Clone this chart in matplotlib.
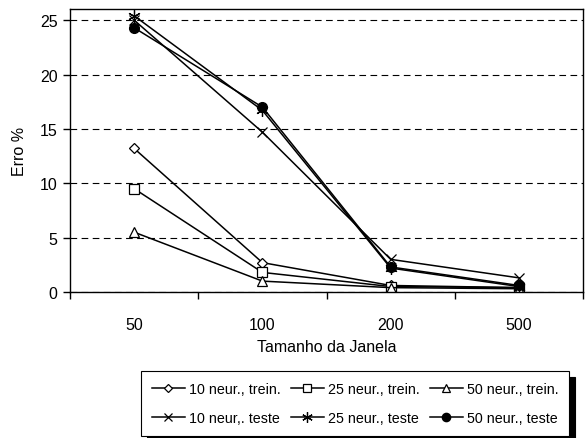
import numpy as np
import matplotlib.pyplot as plt

plt.rcParams['font.family'] = ['Liberation Sans', 'DejaVu Sans']

janelas = ['50', '100', '200', '500']

tr10 = [13.2, 2.7, 0.6, 0.4]
tr25 = [9.5, 1.8, 0.5, 0.4]
tr50 = [5.5, 1.0, 0.4, 0.3]
te10 = [25.0, 14.7, 3.0, 1.3]
te25 = [25.4, 16.7, 2.2, 0.5]
te50 = [24.3, 17.0, 2.3, 0.6]

fig = plt.figure(figsize=(5.85, 4.39), dpi=100)
ax = fig.add_axes([0.1197, 0.3326, 0.877, 0.644])

x = np.arange(len(janelas))
kw = dict(color='black', lw=1.1, mfc='white', mec='black', mew=0.9)

h_tr10, = ax.plot(x, tr10, marker='D', ms=5, label='10 neur., trein.', **kw)
h_tr25, = ax.plot(x, tr25, marker='s', ms=6.5, label='25 neur., trein.', **kw)
h_tr50, = ax.plot(x, tr50, marker='^', ms=7, label='50 neur., trein.', **kw)
h_te10, = ax.plot(x, te10, marker='x', ms=7, label='10 neur,. teste', **kw)
h_te25, = ax.plot(x, te25, marker=(6, 2, 0), ms=9, label='25 neur., teste', **kw)
h_te50, = ax.plot(x, te50, marker='o', ms=7, color='black', lw=1.1,
                  mfc='black', mec='black', label='50 neur., teste')

ax.set_xlim(-0.5, len(janelas) - 0.5)
ax.set_ylim(0, 26)
ax.set_yticks([0, 5, 10, 15, 20, 25])
ax.set_xticks(np.arange(len(janelas) + 1) - 0.5)
ax.set_xticklabels([])
ax.set_xticks(x, minor=True)
ax.set_xticklabels(janelas, minor=True)
ax.tick_params(axis='x', which='major', direction='out', length=5, width=1)
ax.tick_params(axis='x', which='minor', length=0, pad=18, labelsize=11.5)
ax.tick_params(axis='y', direction='out', length=5, width=1, labelsize=11.5,
               pad=4)

ax.yaxis.grid(True, linestyle=(0, (6, 4)), color='black', lw=0.8)
ax.set_axisbelow(True)
for s in ax.spines.values():
    s.set_linewidth(1)

ax.set_xlabel('Tamanho da Janela', fontsize=11.5, labelpad=5)
ax.set_ylabel('Erro %', fontsize=11.5, labelpad=9)

handles = [h_tr10, h_te10, h_tr25, h_te25, h_tr50, h_te50]
leg = fig.legend(handles=handles, labels=[h.get_label() for h in handles],
                 ncol=3, loc='center', bbox_to_anchor=(0.607, 0.079),
                 fontsize=10.3, frameon=True, fancybox=False, edgecolor='black',
                 handlelength=2.3, handletextpad=0.3, columnspacing=0.7,
                 labelspacing=1.05, borderpad=0.75, markerscale=0.85,
                 shadow={'color': 'black', 'alpha': 1, 'ox': 4, 'oy': -4})
leg.get_frame().set_linewidth(0.8)

fig.savefig('out.png', dpi=100)
